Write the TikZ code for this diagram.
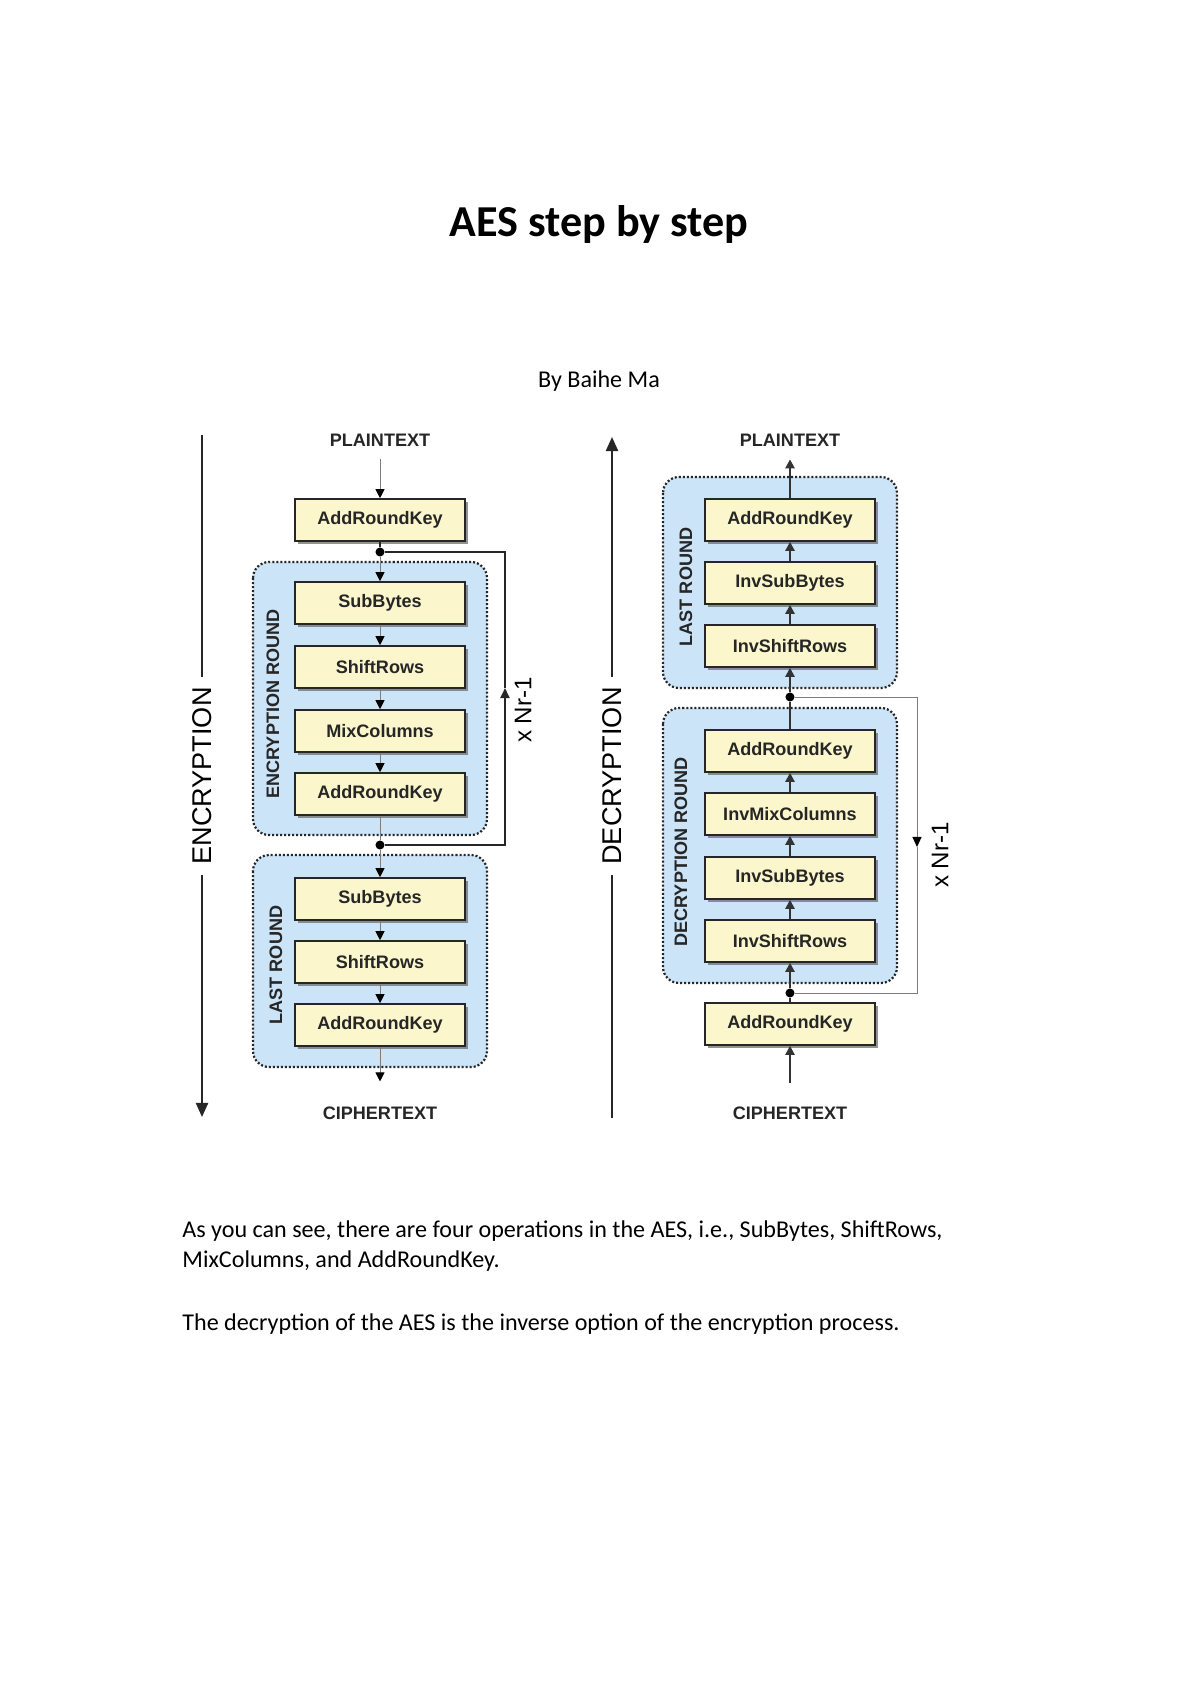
\documentclass[tikz,border=0pt]{standalone}
\usepackage{fontspec}
\setmainfont{Carlito}
\newfontfamily\diagfont{Liberation Sans}
\usetikzlibrary{arrows.meta,shadows}
\definecolor{BoxClr}{RGB}{251,246,204}
\definecolor{RoundClr}{RGB}{204,228,248}
\definecolor{FlowClr}{RGB}{125,125,125}

\tikzset{
  stepbox/.style={draw=black!85,line width=0.8pt,fill=BoxClr,
    minimum width=2.975cm,minimum height=0.735cm,inner sep=0pt,
    font=\diagfont\bfseries\fontsize{9}{10}\selectfont,text=black!85,
    drop shadow={shadow xshift=1.4pt,shadow yshift=-1.4pt,fill=black!60,opacity=.7}},
  roundbox/.style={fill=RoundClr,draw=black!85,line width=1.1pt,
    dash pattern=on 1pt off 1pt,rounded corners=8pt},
  roundlbl/.style={rotate=90,font=\diagfont\bfseries\fontsize{9}{10}\selectfont,text=black!85},
  endlbl/.style={font=\diagfont\bfseries\fontsize{9}{10}\selectfont,text=black!85},
  dirlbl/.style={rotate=90,font=\diagfont\fontsize{13.5}{15}\selectfont,inner sep=5pt},
  replbl/.style={rotate=90,font=\diagfont\fontsize{12}{14}\selectfont},
  encflow/.style={draw=FlowClr,line width=0.5pt,-{Triangle[length=4.5pt,width=4.5pt,color=black]}},
  decflow/.style={draw=black!80,line width=1.1pt,-{Triangle[length=4.5pt,width=4.5pt]}},
  encloop/.style={draw=black!85,line width=0.9pt},
  decloop/.style={draw=FlowClr,line width=0.5pt},
  axisline/.style={draw=black!85,line width=1.1pt},
  jdot/.style={circle,fill=black,inner sep=0pt,minimum size=4.5pt}
}

\begin{document}
\begin{tikzpicture}[x=0.0175cm,y=-0.0175cm]
\path[fill=white,use as bounding box] (0,0) rectangle (1200,1696);

% title and text
\node[anchor=base,font=\bfseries\fontsize{22}{26}\selectfont] (title) at (599,237) {AES step by step};
\node[anchor=base,font=\fontsize{12}{14}\selectfont] (author) at (599,387) {By Baihe Ma};
\node[anchor=base west,inner sep=0pt,font=\fontsize{12}{14}\selectfont] (line1) at (182,1237)
  {As you can see, there are four operations in the AES, i.e., SubBytes, ShiftRows,};
\node[anchor=base west,inner sep=0pt,font=\fontsize{12}{14}\selectfont] (line2) at (182,1267)
  {MixColumns, and AddRoundKey.};
\node[anchor=base west,inner sep=0pt,font=\fontsize{12}{14}\selectfont] (line3) at (182,1330)
  {The decryption of the AES is the inverse option of the encryption process.};

% rounds
\draw[roundbox] (253,562) rectangle (487,835);
\draw[roundbox] (253,855) rectangle (487,1067);
\draw[roundbox] (663,477) rectangle (897,688);
\draw[roundbox] (663,708) rectangle (897,983);

\node[roundlbl] (encround) at (273,704) {ENCRYPTION ROUND};
\node[roundlbl] (enclast) at (276,965) {LAST ROUND};
\node[roundlbl] (declast) at (686,587) {LAST ROUND};
\node[roundlbl] (decround) at (681,852) {DECRYPTION ROUND};

% encryption
\node[endlbl] (pt1) at (380,440) {PLAINTEXT};
\node[stepbox] (ark0) at (380,520) {AddRoundKey};
\node[jdot] (j1) at (380,552) {};
\node[stepbox] (sb1) at (380,603) {SubBytes};
\node[stepbox] (sr1) at (380,667) {ShiftRows};
\node[stepbox] (mc1) at (380,731) {MixColumns};
\node[stepbox] (ark1) at (380,794) {AddRoundKey};
\node[jdot] (j2) at (380,845) {};
\node[stepbox] (sb2) at (380,899) {SubBytes};
\node[stepbox] (sr2) at (380,962) {ShiftRows};
\node[stepbox] (ark2) at (380,1025) {AddRoundKey};
\node[endlbl] (ct1) at (380,1113) {CIPHERTEXT};

\draw[encflow,shorten <=3pt] (pt1) -- (ark0);
\draw[encloop] (ark0) -- (j1);
\draw[encflow] (j1) -- (sb1);
\draw[encflow] (sb1) -- (sr1);
\draw[encflow] (sr1) -- (mc1);
\draw[encflow] (mc1) -- (ark1);
\draw[decloop] (ark1) -- (j2);
\draw[encflow] (j2) -- (sb2);
\draw[encflow] (sb2) -- (sr2);
\draw[encflow] (sr2) -- (ark2);
\draw[encflow,shorten >=9pt] (ark2) -- (ct1);

\coordinate (lt1) at (505,552);
\coordinate (lm1) at (505,688);
\coordinate (lb1) at (505,845);
\draw[encloop,-{Triangle[length=5pt,width=4.5pt]}] (j2) -- (lb1) -- (lm1);
\draw[encloop] (lm1) -- (lt1) -- (j1);
\node[replbl] (rep1) at (523,710) {x Nr-1};

\coordinate (et) at (202,435);
\coordinate (eb) at (202,1117);
\node[dirlbl] (enc) at (202,776) {ENCRYPTION};
\draw[axisline] (et) -- (enc.east);
\draw[axisline,-{Triangle[length=7pt,width=6pt]}] (enc.west) -- (eb);

% decryption
\node[endlbl] (pt2) at (790,440) {PLAINTEXT};
\node[stepbox] (dark2) at (790,520) {AddRoundKey};
\node[stepbox] (isb2) at (790,583) {InvSubBytes};
\node[stepbox] (isr2) at (790,646) {InvShiftRows};
\node[jdot] (j3) at (790,697) {};
\node[stepbox] (dark1) at (790,751) {AddRoundKey};
\node[stepbox] (imc1) at (790,814) {InvMixColumns};
\node[stepbox] (isb1) at (790,878) {InvSubBytes};
\node[stepbox] (isr1) at (790,941) {InvShiftRows};
\node[jdot] (j4) at (790,993) {};
\node[stepbox] (dark0) at (790,1024) {AddRoundKey};
\node[endlbl] (ct2) at (790,1113) {CIPHERTEXT};

\draw[decflow,shorten <=8pt] (ct2) -- (dark0);
\draw[decflow,-] (dark0) -- (j4);
\draw[decflow] (j4) -- (isr1);
\draw[decflow] (isr1) -- (isb1);
\draw[decflow] (isb1) -- (imc1);
\draw[decflow] (imc1) -- (dark1);
\draw[decflow,-] (dark1) -- (j3);
\draw[decflow] (j3) -- (isr2);
\draw[decflow] (isr2) -- (isb2);
\draw[decflow] (isb2) -- (dark2);
\draw[decflow,shorten >=3pt] (dark2) -- (pt2);

\coordinate (lt2) at (917,697);
\coordinate (lm2) at (917,847);
\coordinate (lb2) at (917,993);
\draw[decloop,-{Triangle[length=5pt,width=4.5pt,color=black]}] (j3) -- (lt2) -- (lm2);
\draw[decloop] (lm2) -- (lb2) -- (j4);
\node[replbl] (rep2) at (940,855) {x Nr-1};

\coordinate (dt) at (612,437);
\coordinate (db) at (612,1118);
\node[dirlbl] (dec) at (612,776) {DECRYPTION};
\draw[axisline,-{Triangle[length=7pt,width=6pt]}] (dec.east) -- (dt);
\draw[axisline] (dec.west) -- (db);
\end{tikzpicture}
\end{document}
